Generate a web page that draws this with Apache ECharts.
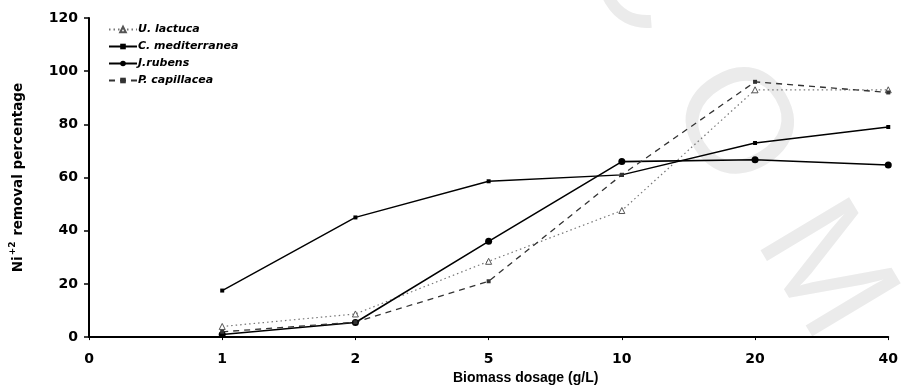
<!DOCTYPE html>
<html>
<head>
<meta charset="utf-8">
<script src="https://cdn.jsdelivr.net/npm/echarts@6/dist/echarts.min.js"></script>
<style>
  html, body { margin: 0; padding: 0; background: #fff; }
  #chart { width: 901px; height: 390px; }
</style>
</head>
<body>
<div id="chart"></div>
<script>
// Biomass dosage (g/L) categories and Ni(II) removal (%) per alga
var dosages = ['0', '1', '2', '5', '10', '20', '40'];
var uLactuca = [null, 4, 8.7, 28.5, 47.6, 93, 93];
var cMediterranea = [null, 17.5, 45, 58.6, 61, 73, 79];
var jRubens = [null, 1, 5.5, 36, 66, 66.7, 64.7];
var pCapillacea = [null, 2, 5.6, 21, 61, 96, 92];
var yTicks = [0, 20, 40, 60, 80, 100, 120];

var numFont = 'DejaVu Sans';
var chart = echarts.init(document.getElementById('chart'), null, { renderer: 'canvas' });

// faint diagonal background lettering
function letter(ch, cx, cy) {
  return {
    type: 'text', x: cx, y: cy, rotation: -59 * Math.PI / 180, silent: true, z: -10,
    style: { text: ch, fill: '#ebebeb', font: 'normal 150px "Liberation Sans"', align: 'center', verticalAlign: 'middle' }
  };
}

chart.setOption({
  animation: false,
  backgroundColor: '#fff',
  graphic: [letter('C', 640, -22), letter('O', 731, 126), letter('M', 822, 272)],
  grid: { left: 88, right: 8, top: 18, bottom: 50 },
  legend: {
    left: 103, top: 19, orient: 'vertical', itemWidth: 28, itemHeight: 7, itemGap: 6,
    textStyle: { fontFamily: numFont, fontWeight: 'bold', fontStyle: 'italic', fontSize: 11, color: '#000', padding: [0, 0, 0, -4] },
    data: ['U. lactuca', 'C. mediterranea', 'J.rubens', 'P. capillacea']
  },
  xAxis: {
    type: 'category', data: dosages, boundaryGap: false,
    name: 'Biomass dosage (g/L)', nameLocation: 'middle', nameGap: 31,
    nameTextStyle: { fontFamily: 'Liberation Sans', fontWeight: 'bold', fontSize: 14, color: '#000', padding: [0, 0, 0, 74] },
    axisLine: { lineStyle: { color: '#000', width: 2 } },
    axisTick: { length: 3, lineStyle: { color: '#000', width: 1 } },
    axisLabel: { margin: 15, fontFamily: numFont, fontWeight: 'bold', fontSize: 14, color: '#000' },
    splitLine: { show: false }
  },
  yAxis: {
    type: 'value', min: yTicks[0], max: yTicks[yTicks.length - 1], interval: 20,
    name: '{a|Ni}{s|+2}{a| removal percentage}', nameLocation: 'middle', nameGap: 61,
    nameTextStyle: {
      rich: {
        a: { fontFamily: numFont, fontWeight: 'bold', fontSize: 13.5, color: '#000' },
        s: { fontFamily: numFont, fontWeight: 'bold', fontSize: 9, color: '#000', verticalAlign: 'top', padding: [0, 1, 11, 1] }
      }
    },
    axisLine: { show: true, lineStyle: { color: '#000', width: 2 } },
    axisTick: { show: true, length: 5, lineStyle: { color: '#000', width: 1.5 } },
    axisLabel: { margin: 11, fontFamily: numFont, fontWeight: 'bold', fontSize: 14, color: '#000' },
    splitLine: { show: false }
  },
  series: [
    {
      name: 'U. lactuca', type: 'line', data: uLactuca,
      symbol: 'triangle', symbolSize: 6,
      itemStyle: { color: '#fff', borderColor: '#555', borderWidth: 1 },
      lineStyle: { color: '#777', width: 1.2, type: [1.5, 3] }
    },
    {
      name: 'C. mediterranea', type: 'line', data: cMediterranea,
      symbol: 'rect', symbolSize: 4,
      itemStyle: { color: '#000' },
      lineStyle: { color: '#000', width: 1.4 }
    },
    {
      name: 'J.rubens', type: 'line', data: jRubens,
      symbol: 'circle', symbolSize: 7,
      itemStyle: { color: '#000' },
      lineStyle: { color: '#000', width: 1.6 }
    },
    {
      name: 'P. capillacea', type: 'line', data: pCapillacea,
      symbol: 'rect', symbolSize: 4,
      itemStyle: { color: '#333' },
      lineStyle: { color: '#333', width: 1.3, type: [6, 5] }
    }
  ]
});
</script>
</body>
</html>
